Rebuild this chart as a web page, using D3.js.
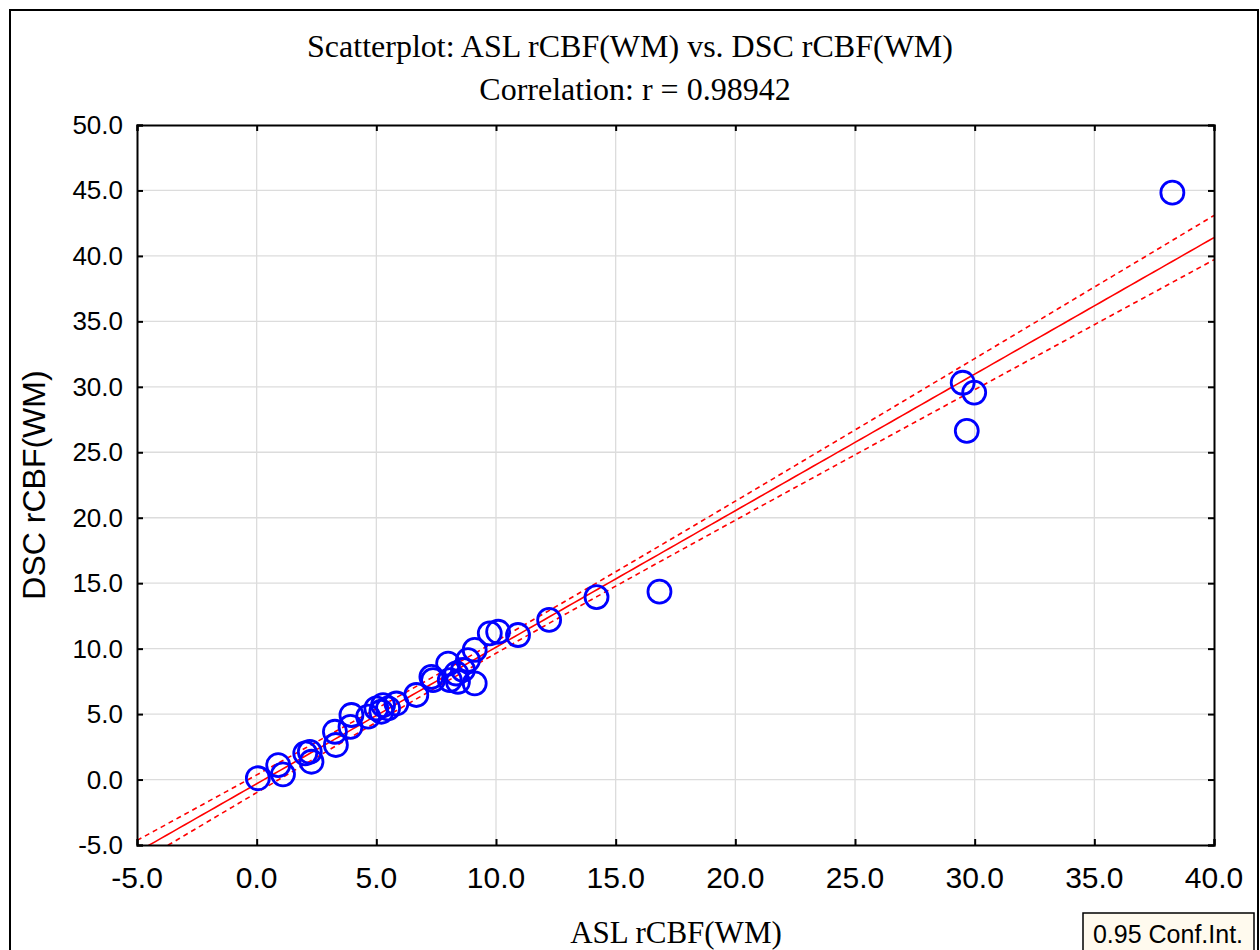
<!DOCTYPE html>
<html>
  <head>
    <meta charset="utf-8" />
    <title>Scatterplot ASL vs DSC</title>
    <style>
      body { margin: 0; background: #fff; }
      .tick-label { font-family: "Liberation Sans", Arial, sans-serif; fill: #000; }
      .title { font-family: "Liberation Serif", "Times New Roman", serif; font-size: 32px; fill: #000; }
      .label-serif { font-family: "Liberation Serif", "Times New Roman", serif; font-size: 31px; fill: #000; }
      .label-sans { font-family: "Liberation Sans", Arial, sans-serif; font-size: 32px; fill: #000; }
    </style>
  </head>
  <body>
    <div id="chart"></div>
    <script src="https://d3js.org/d3.v7.min.js"></script>
    <script>
      // values
      const aslValues = [0.05, 0.9, 1.1, 2.03, 2.22, 2.29, 3.31, 3.27, 3.92, 3.96, 4.66, 5.0,
        5.28, 5.21, 5.49, 5.84, 6.67, 7.37, 7.3, 8.0, 8.07, 8.41, 8.34, 8.62, 8.83, 9.11,
        9.11, 9.74, 10.09, 10.92, 12.22, 14.2, 16.83, 29.5, 29.98, 29.67, 38.26];
      const dscValues = [0.1, 1.1, 0.4, 2.0, 2.12, 1.36, 2.64, 3.65, 4.03, 4.93, 4.8, 5.43,
        5.69, 5.18, 5.43, 5.81, 6.46, 7.6, 7.85, 8.86, 7.6, 7.47, 8.1, 8.37, 9.13, 9.9,
        7.34, 11.17, 11.29, 11.04, 12.19, 13.94, 14.35, 30.31, 29.56, 26.64, 44.83];
      const xTicks = [-5, 0, 5, 10, 15, 20, 25, 30, 35, 40];
      const yTicks = [-5, 0, 5, 10, 15, 20, 25, 30, 35, 40, 45, 50];

      const W = 1260, H = 950;
      const pLeft = 137, pRight = 1214, pTop = 125, pBottom = 845;

      const svg = d3.select("#chart").append("svg")
        .attr("width", W)
        .attr("height", H);

      svg.append("rect")
        .attr("x", 10).attr("y", 10)
        .attr("width", W - 12).attr("height", H)
        .attr("fill", "#fff")
        .attr("stroke", "#000")
        .attr("stroke-width", 2);

      const x = d3.scaleLinear().domain([-5, 40]).range([pLeft, pRight]);
      const y = d3.scaleLinear().domain([-5, 50]).range([pBottom, pTop]);

      // grid
      svg.append("g")
        .selectAll("line")
        .data(xTicks.slice(1, -1))
        .join("line")
        .attr("x1", d => x(d)).attr("x2", d => x(d))
        .attr("y1", pTop).attr("y2", pBottom)
        .attr("stroke", "#dcdcdc").attr("stroke-width", 1.3);
      svg.append("g")
        .selectAll("line")
        .data(yTicks.slice(1, -1))
        .join("line")
        .attr("y1", d => y(d)).attr("y2", d => y(d))
        .attr("x1", pLeft).attr("x2", pRight)
        .attr("stroke", "#dcdcdc").attr("stroke-width", 1.3);

      // regression + 95% confidence band
      const n = aslValues.length;
      const mx = d3.mean(aslValues), my = d3.mean(dscValues);
      let sxx = 0, sxy = 0;
      aslValues.forEach((v, i) => {
        sxx += (v - mx) * (v - mx);
        sxy += (v - mx) * (dscValues[i] - my);
      });
      const slope = sxy / sxx;
      const icpt = my - slope * mx;
      let sse = 0;
      aslValues.forEach((v, i) => {
        const r = dscValues[i] - (icpt + slope * v);
        sse += r * r;
      });
      const se = Math.sqrt(sse / (n - 2));
      const tval = 2.03;

      const xs = d3.range(-5, 40.01, 0.25);
      const fit = xs.map(v => [v, icpt + slope * v]);
      const band = s => xs.map(v => {
        const h = tval * se * Math.sqrt(1 / n + (v - mx) * (v - mx) / sxx);
        return [v, icpt + slope * v + s * h];
      });

      svg.append("clipPath").attr("id", "plotclip")
        .append("rect")
        .attr("x", pLeft).attr("y", pTop)
        .attr("width", pRight - pLeft).attr("height", pBottom - pTop);

      const line = d3.line().x(d => x(d[0])).y(d => y(d[1]));
      const fitG = svg.append("g").attr("clip-path", "url(#plotclip)");

      fitG.append("path")
        .attr("d", line(fit))
        .attr("fill", "none")
        .attr("stroke", "#ff0000")
        .attr("stroke-width", 1.6);
      [1, -1].forEach(s => {
        fitG.append("path")
          .attr("d", line(band(s)))
          .attr("fill", "none")
          .attr("stroke", "#ff0000")
          .attr("stroke-width", 1.6)
          .attr("stroke-dasharray", "5,4");
      });

      // points
      svg.append("g")
        .selectAll("circle")
        .data(aslValues.map((v, i) => [v, dscValues[i]]))
        .join("circle")
        .attr("cx", d => x(d[0]))
        .attr("cy", d => y(d[1]))
        .attr("r", 11.5)
        .attr("fill", "none")
        .attr("stroke", "#0000ff")
        .attr("stroke-width", 2.8);

      // axes, ticks inward on all sides
      svg.append("g")
        .attr("transform", `translate(0, ${pBottom})`)
        .call(d3.axisBottom(x).tickValues(xTicks).tickSize(-6).tickFormat(""));
      svg.append("g")
        .attr("transform", `translate(0, ${pTop})`)
        .call(d3.axisTop(x).tickValues(xTicks).tickSize(-6).tickFormat(""));
      svg.append("g")
        .attr("transform", `translate(${pLeft}, 0)`)
        .call(d3.axisLeft(y).tickValues(yTicks).tickSize(-6).tickFormat(""));
      svg.append("g")
        .attr("transform", `translate(${pRight}, 0)`)
        .call(d3.axisRight(y).tickValues(yTicks).tickSize(-6).tickFormat(""));
      svg.selectAll(".domain").attr("stroke", "#000").attr("stroke-width", 2);
      svg.selectAll(".tick line").attr("stroke", "#000").attr("stroke-width", 2);

      svg.append("g")
        .selectAll("text")
        .data(xTicks)
        .join("text")
        .attr("class", "tick-label")
        .attr("x", d => x(d))
        .attr("y", pBottom + 43)
        .attr("text-anchor", "middle")
        .style("font-size", "30px")
        .text(d => d.toFixed(1));
      svg.append("g")
        .selectAll("text")
        .data(yTicks)
        .join("text")
        .attr("class", "tick-label")
        .attr("x", pLeft - 14)
        .attr("y", d => y(d) + 9)
        .attr("text-anchor", "end")
        .style("font-size", "26px")
        .text(d => d.toFixed(1));

      // titles
      svg.append("text")
        .attr("class", "title")
        .attr("x", 630).attr("y", 57)
        .attr("text-anchor", "middle")
        .text("Scatterplot: ASL rCBF(WM) vs. DSC rCBF(WM)");
      svg.append("text")
        .attr("class", "title")
        .attr("x", 635).attr("y", 100)
        .attr("text-anchor", "middle")
        .text("Correlation: r = 0.98942");
      svg.append("text")
        .attr("class", "label-serif")
        .attr("x", 676).attr("y", 943)
        .attr("text-anchor", "middle")
        .text("ASL rCBF(WM)");
      svg.append("text")
        .attr("class", "label-sans")
        .attr("transform", `translate(45, ${(pTop + pBottom) / 2}) rotate(-90)`)
        .attr("text-anchor", "middle")
        .text("DSC rCBF(WM)");

      // legend box
      svg.append("rect")
        .attr("x", 1083).attr("y", 913)
        .attr("width", 171).attr("height", 45)
        .attr("fill", "#fffaee")
        .attr("stroke", "#000")
        .attr("stroke-width", 1.5);
      svg.append("text")
        .attr("class", "tick-label")
        .attr("x", 1168).attr("y", 943)
        .attr("text-anchor", "middle")
        .style("font-size", "25px")
        .text("0.95 Conf.Int.");
    </script>
  </body>
</html>
